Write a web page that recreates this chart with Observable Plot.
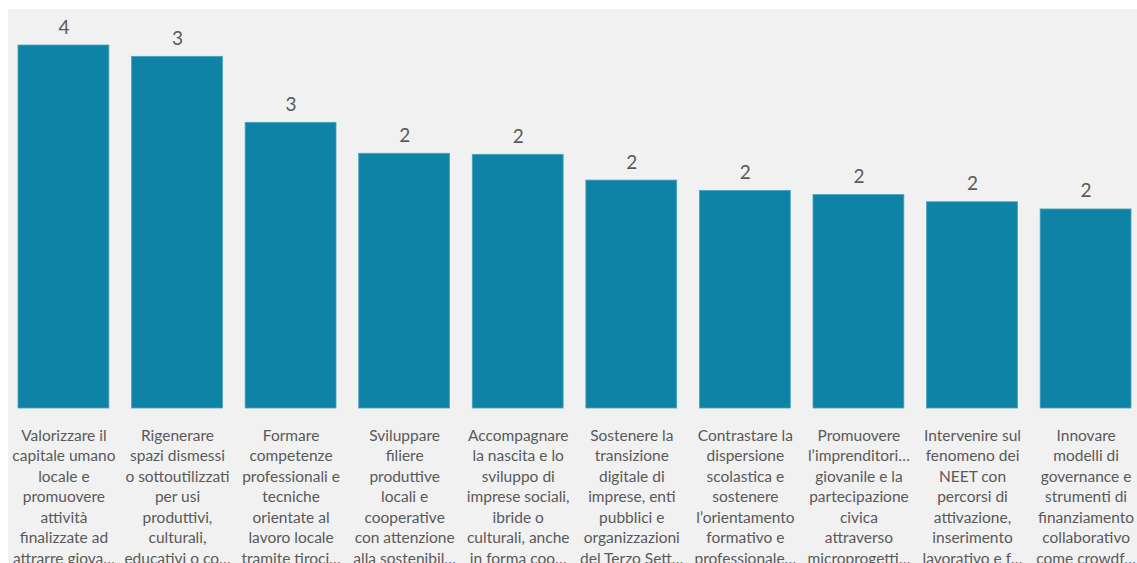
<!DOCTYPE html>
<html>
<head>
<meta charset="utf-8">
<script src="https://cdn.jsdelivr.net/npm/d3@7"></script>
<script src="https://cdn.jsdelivr.net/npm/@observablehq/plot@0.6"></script>
<style>
  html, body { margin: 0; padding: 0; background: #ffffff; overflow: hidden; }
  #chart { position: absolute; left: 8px; top: 9px; }
  #chart svg { display: block; background: #f1f1f1; }
</style>
</head>
<body>
<div id="chart"></div>
<script>
// Categories (visible wrapped text, as shown in the reference)
const categories = [
  "Valorizzare il\ncapitale umano\nlocale e\npromuovere\nattività\nfinalizzate ad\nattrarre giova…",
  "Rigenerare\nspazi dismessi\no sottoutilizzati\nper usi\nproduttivi,\nculturali,\neducativi o co…",
  "Formare\ncompetenze\nprofessionali e\ntecniche\norientate al\nlavoro locale\ntramite tiroci…",
  "Sviluppare\nfiliere\nproduttive\nlocali e\ncooperative\ncon attenzione\nalla sostenibil…",
  "Accompagnare\nla nascita e lo\nsviluppo di\nimprese sociali,\nibride o\nculturali, anche\nin forma coo…",
  "Sostenere la\ntransizione\ndigitale di\nimprese, enti\npubblici e\norganizzazioni\ndel Terzo Sett…",
  "Contrastare la\ndispersione\nscolastica e\nsostenere\nl’orientamento\nformativo e\nprofessionale…",
  "Promuovere\nl’imprenditori…\ngiovanile e la\npartecipazione\ncivica\nattraverso\nmicroprogetti…",
  "Intervenire sul\nfenomeno dei\nNEET con\npercorsi di\nattivazione,\ninserimento\nlavorativo e f…",
  "Innovare\nmodelli di\ngovernance e\nstrumenti di\nfinanziamento\ncollaborativo\ncome crowdf…"
];
// Values (labels shown rounded)
const values = [3.52, 3.41, 2.77, 2.47, 2.46, 2.21, 2.11, 2.07, 2.00, 1.93];

const data = categories.map((c, i) => ({category: c, value: values[i]}));

const chart = Plot.plot({
  width: 1129,
  height: 554,
  marginTop: 36,
  marginBottom: 155,
  marginLeft: 10,
  marginRight: 6,
  style: {fontFamily: "Lato, 'Open Sans', sans-serif", background: "#f1f1f1"},
  x: {domain: categories, paddingInner: 0.2, paddingOuter: 0, round: false, axis: null},
  y: {domain: [0, 3.52], axis: null},
  marks: [
    Plot.barY(data, {x: "category", y: "value", fill: "#0e83a5", stroke: "#4aa3bf", strokeWidth: 0.8}),
    Plot.text(data, {
      x: "category", y: "value", text: d => d3.format(".0f")(d.value),
      lineAnchor: "bottom", dy: -12, fontSize: 19, fill: "#595959"
    }),
    Plot.text(data, {
      x: "category", y: 0, text: "category",
      lineAnchor: "top", dy: 18, fontSize: 15.5, lineHeight: 1.32, fill: "#595959"
    })
  ]
});
document.getElementById("chart").appendChild(chart);
</script>
</body>
</html>
